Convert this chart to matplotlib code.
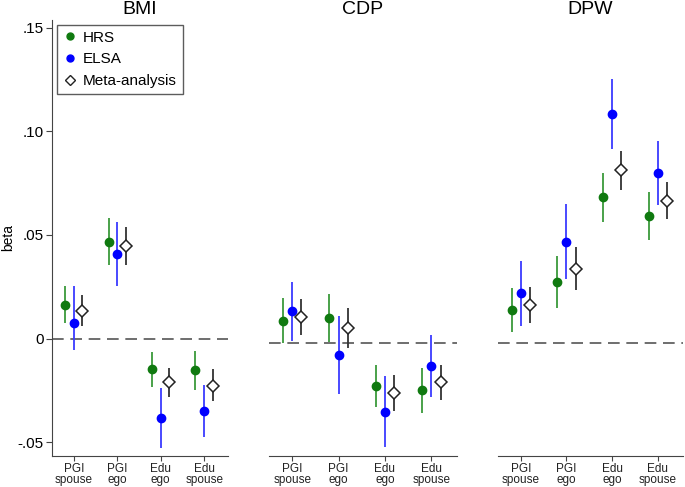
import numpy as np
import matplotlib
matplotlib.use('Agg')
import matplotlib.pyplot as plt
from matplotlib.lines import Line2D

plt.rcParams['font.family'] = ['Liberation Sans', 'DejaVu Sans']

outcomes = ['BMI', 'CDP', 'DPW']
predictors = ['PGI\nspouse', 'PGI\nego', 'Edu\nego', 'Edu\nspouse']

# point estimate, lower CI, upper CI  (order: PGI spouse, PGI ego, Edu ego, Edu spouse)
hrs_b = {'BMI': [0.0162, 0.0468, -0.0148, -0.0154],
         'CDP': [0.0106, 0.0121, -0.0207, -0.0230],
         'DPW': [0.0158, 0.0294, 0.0701, 0.0609]}
hrs_lo = {'BMI': [0.0074, 0.0355, -0.0232, -0.0250],
          'CDP': [0.0000, 0.0005, -0.0312, -0.0338],
          'DPW': [0.0050, 0.0170, 0.0584, 0.0495]}
hrs_hi = {'BMI': [0.0254, 0.0580, -0.0064, -0.0058],
          'CDP': [0.0217, 0.0236, -0.0105, -0.0124],
          'DPW': [0.0262, 0.0420, 0.0817, 0.0725]}

elsa_b = {'BMI': [0.0077, 0.0408, -0.0384, -0.0349],
          'CDP': [0.0153, -0.0061, -0.0333, -0.0113],
          'DPW': [0.0238, 0.0486, 0.1105, 0.0820]}
elsa_lo = {'BMI': [-0.0055, 0.0254, -0.0526, -0.0473],
           'CDP': [0.0010, -0.0249, -0.0502, -0.0260],
           'DPW': [0.0080, 0.0305, 0.0936, 0.0666]}
elsa_hi = {'BMI': [0.0254, 0.0564, -0.0240, -0.0223],
           'CDP': [0.0294, 0.0129, -0.0161, 0.0037],
           'DPW': [0.0394, 0.0667, 0.1273, 0.0973]}

meta_b = {'BMI': [0.0135, 0.0447, -0.0209, -0.0227],
          'CDP': [0.0125, 0.0069, -0.0241, -0.0188],
          'DPW': [0.0182, 0.0357, 0.0833, 0.0685]}
meta_lo = {'BMI': [0.0061, 0.0355, -0.0280, -0.0300],
           'CDP': [0.0037, -0.0027, -0.0330, -0.0277],
           'DPW': [0.0093, 0.0254, 0.0736, 0.0595]}
meta_hi = {'BMI': [0.0211, 0.0537, -0.0140, -0.0148],
           'CDP': [0.0211, 0.0170, -0.0153, -0.0105],
           'DPW': [0.0270, 0.0460, 0.0926, 0.0777]}

ylims = {'BMI': (-0.0566, 0.1537), 'CDP': (-0.0545, 0.1556), 'DPW': (-0.0545, 0.1556)}
lefts = {'BMI': 0.0759, 'CDP': 0.3927, 'DPW': 0.727}
rights = {'BMI': 0.333, 'CDP': 0.667, 'DPW': 0.997}

fig = plt.figure(figsize=(6.85, 4.87), dpi=100)
x = np.arange(1, 5)
off = 0.2

for name in outcomes:
    ax = fig.add_axes([lefts[name], 0.064, rights[name] - lefts[name], 0.895])
    ax.axhline(0, color='#555555', lw=1.2, ls=(0, (7, 4)), zorder=1)

    ax.vlines(x - off, hrs_lo[name], hrs_hi[name], color='#3a9a3a', lw=1.3, zorder=2)
    ax.plot(x - off, hrs_b[name], 'o', color='#107a10', ms=6, zorder=3)
    ax.vlines(x, elsa_lo[name], elsa_hi[name], color='#3a3aff', lw=1.3, zorder=2)
    ax.plot(x, elsa_b[name], 'o', color='#0000ff', ms=6, zorder=3)
    ax.vlines(x + off, meta_lo[name], meta_hi[name], color='#333333', lw=1.3, zorder=2)
    ax.plot(x + off, meta_b[name], 'D', mfc='white', mec='#222222', mew=1.1, ms=6, zorder=3)

    ax.set_xlim(0.5, 4.55)
    ax.set_ylim(*ylims[name])
    ax.set_xticks(x)
    ax.set_xticklabels(predictors, fontsize=8.5, color='#222222', linespacing=0.85)
    ax.set_title(name, fontsize=14, pad=4)
    for s in ['top', 'right']:
        ax.spines[s].set_visible(False)
    ax.spines['bottom'].set_color('#444444')
    ax.tick_params(axis='x', length=3.5, color='#444444', pad=2)

    if name == 'BMI':
        ax.spines['left'].set_color('#444444')
        ax.set_yticks([-0.05, 0, 0.05, 0.10, 0.15])
        ax.set_yticklabels(['-.05', '0', '.05', '.10', '.15'], fontsize=11)
        ax.tick_params(axis='y', length=4, color='#444444', pad=2)
        ax.set_ylabel('beta', fontsize=10)
        ax.yaxis.set_label_coords(-0.21, 0.5)
        handles = [Line2D([], [], ls='', marker='o', color='#107a10', ms=5),
                   Line2D([], [], ls='', marker='o', color='#0000ff', ms=5),
                   Line2D([], [], ls='', marker='D', mfc='white', mec='#222222', ms=5)]
        leg = ax.legend(handles, ['HRS', 'ELSA', 'Meta-analysis'], loc='upper left',
                        bbox_to_anchor=(0.0, 1.0), borderaxespad=0.3, fontsize=11,
                        frameon=True, fancybox=False, handletextpad=0.3, handlelength=1.0,
                        borderpad=0.4, labelspacing=0.5)
        leg.get_frame().set_edgecolor('#333333')
        leg.get_frame().set_linewidth(1.0)
    else:
        ax.spines['left'].set_visible(False)
        ax.set_yticks([])

fig.savefig('out.png', dpi=100)
